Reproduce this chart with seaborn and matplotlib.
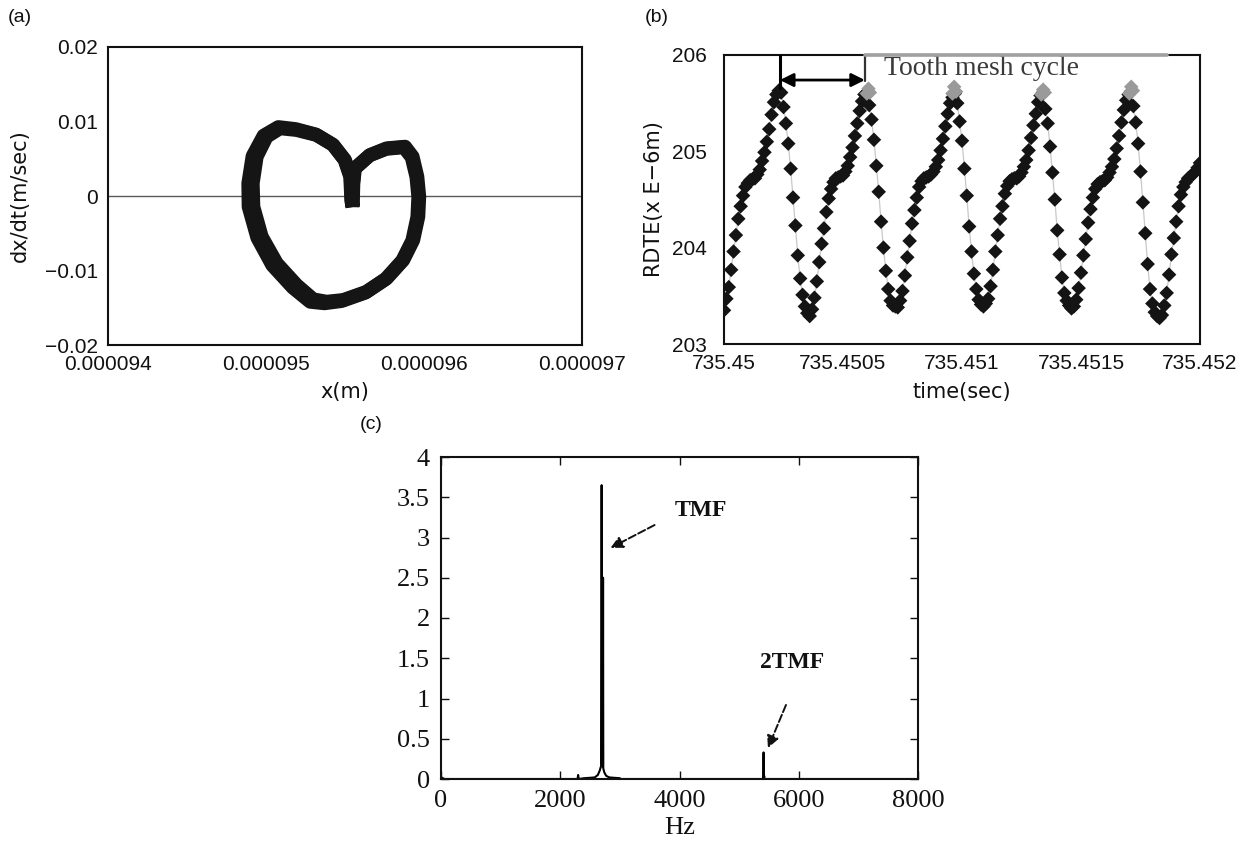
import numpy as np
import matplotlib
matplotlib.use("Agg")
import matplotlib.pyplot as plt
import seaborn as sns

# ---------------- (a) phase portrait: x (micrometres) vs dx/dt (m/s) ----------------
orbit1_x_um = [95.549, 95.553, 95.563, 95.658, 95.764, 95.880, 95.928, 95.958, 95.970, 95.964,
               95.932, 95.869, 95.764, 95.637, 95.489, 95.384, 95.299, 95.194, 95.068, 94.973,
               94.920, 94.916, 94.941, 95.004, 95.089, 95.194, 95.320, 95.426, 95.500, 95.536,
               95.542, 95.549]
orbit1_v = [-0.00144, 0.00170, 0.00372, 0.00550, 0.00640, 0.00662, 0.00528, 0.00259, -0.00009, -0.00278,
            -0.00591, -0.00859, -0.01105, -0.01285, -0.01396, -0.01419, -0.01387, -0.01195, -0.00903, -0.00546,
            -0.00144, 0.00170, 0.00528, 0.00796, 0.00909, 0.00886, 0.00819, 0.00685, 0.00483, 0.00259,
            -0.00054, -0.00144]
orbit2_x_um = [95.547, 95.551, 95.560, 95.655, 95.760, 95.872, 95.922, 95.952, 95.964, 95.958,
               95.926, 95.862, 95.757, 95.628, 95.478, 95.370, 95.280, 95.170, 95.040, 94.945,
               94.890, 94.888, 94.915, 94.985, 95.078, 95.188, 95.315, 95.422, 95.497, 95.533,
               95.540, 95.547]
orbit2_v = [-0.00150, 0.00165, 0.00365, 0.00545, 0.00632, 0.00655, 0.00520, 0.00255, -0.00012, -0.00282,
            -0.00598, -0.00868, -0.01115, -0.01298, -0.01410, -0.01440, -0.01420, -0.01230, -0.00930, -0.00560,
            -0.00144, 0.00170, 0.00535, 0.00810, 0.00925, 0.00898, 0.00826, 0.00690, 0.00486, 0.00260,
            -0.00060, -0.00150]
a_xticks = [0.000094, 0.000095, 0.000096, 0.000097]
a_xticklabels = ["0.000094", "0.000095", "0.000096", "0.000097"]
a_yticks = [-0.02, -0.01, 0.0, 0.01, 0.02]
a_yticklabels = ["\u22120.02", "\u22120.01", "0", "0.01", "0.02"]

# ---------------- (b) RDTE time series ----------------
t_start = 735.45
time_us = [
    0, 10, 20, 30, 40, 50, 60, 70, 80, 90,
    100, 110, 120, 130, 140, 150, 160, 170, 180, 190,
    200, 210, 220, 230, 240, 250, 260, 270, 280, 290,
    300, 310, 320, 330, 340, 350, 360, 370, 380, 390,
    400, 410, 420, 430, 440, 450, 460, 470, 480, 490,
    500, 510, 520, 530, 540, 550, 560, 570, 580, 590,
    600, 610, 620, 630, 640, 650, 660, 670, 680, 690,
    700, 710, 720, 730, 740, 750, 760, 770, 780, 790,
    800, 810, 820, 830, 840, 850, 860, 870, 880, 890,
    900, 910, 920, 930, 940, 950, 960, 970, 980, 990,
    1000, 1010, 1020, 1030, 1040, 1050, 1060, 1070, 1080, 1090,
    1100, 1110, 1120, 1130, 1140, 1150, 1160, 1170, 1180, 1190,
    1200, 1210, 1220, 1230, 1240, 1250, 1260, 1270, 1280, 1290,
    1300, 1310, 1320, 1330, 1340, 1350, 1360, 1370, 1380, 1390,
    1400, 1410, 1420, 1430, 1440, 1450, 1460, 1470, 1480, 1490,
    1500, 1510, 1520, 1530, 1540, 1550, 1560, 1570, 1580, 1590,
    1600, 1610, 1620, 1630, 1640, 1650, 1660, 1670, 1680, 1690,
    1700, 1710, 1720, 1730, 1740, 1750, 1760, 1770, 1780, 1790,
    1800, 1810, 1820, 1830, 1840, 1850, 1860, 1870, 1880, 1890,
    1900, 1910, 1920, 1930, 1940, 1950, 1960, 1970, 1980, 1990,
    2000]
rdte = (
    [203.35, 203.47, 203.59, 203.77, 203.96, 204.13, 204.30, 204.43, 204.54, 204.63,
     204.67, 204.70, 204.71, 204.72, 204.76, 204.81, 204.90, 204.99, 205.10, 205.23,
     205.38, 205.51, 205.59, 205.63,
     205.61, 205.46, 205.29, 205.08, 204.82, 204.52, 204.23, 203.92, 203.68, 203.51,
     203.39, 203.32, 203.29]
    + [203.36, 203.48, 203.65, 203.85, 204.04, 204.20, 204.37, 204.51, 204.61, 204.68,
       204.72, 204.73, 204.74, 204.75, 204.79, 204.85, 204.94, 205.04, 205.16, 205.29,
       205.42, 205.52, 205.59, 205.61]
    + [205.48, 205.33, 205.12, 204.85, 204.58, 204.27, 204.00, 203.76, 203.57, 203.45,
       203.40, 203.39, 203.38]
    + [203.45, 203.55, 203.71, 203.90, 204.07, 204.25, 204.39, 204.52, 204.63, 204.69,
       204.72, 204.73, 204.74, 204.76, 204.79, 204.84, 204.91, 205.01, 205.13, 205.26,
       205.39, 205.50, 205.56, 205.60]
    + [205.50, 205.31, 205.11, 204.82, 204.54, 204.22, 203.96, 203.73, 203.57, 203.46,
       203.41, 203.39, 203.42]
    + [203.47, 203.60, 203.77, 203.96, 204.13, 204.30, 204.43, 204.56, 204.64, 204.69,
       204.71, 204.72, 204.72, 204.74, 204.78, 204.84, 204.91, 205.01, 205.14, 205.27,
       205.39, 205.51, 205.58, 205.61]
    + [205.44, 205.29, 205.05, 204.78, 204.50, 204.18, 203.93, 203.69, 203.53, 203.45,
       203.40, 203.37, 203.39]
    + [203.46, 203.58, 203.74, 203.92, 204.09, 204.26, 204.40, 204.52, 204.61, 204.66,
       204.68, 204.69, 204.70, 204.73, 204.78, 204.84, 204.92, 205.03, 205.16, 205.30,
       205.43, 205.53, 205.59, 205.62]
    + [205.47, 205.30, 205.08, 204.79, 204.47, 204.15, 203.83, 203.57, 203.42, 203.33,
       203.29, 203.27, 203.30]
    + [203.40, 203.53, 203.72, 203.93, 204.10, 204.27, 204.43, 204.55, 204.63, 204.68,
       204.72, 204.74, 204.76, 204.79, 204.83, 204.88]
)
peak_time_us = [600, 607, 613, 960, 967, 975, 1333, 1341, 1348, 1703, 1711, 1718]
peak_rdte = [205.60, 205.65, 205.61, 205.60, 205.67, 205.62, 205.59, 205.64, 205.61, 205.60, 205.67, 205.63]
cycle_from_us, cycle_to_us = 235, 592
b_xticks_us = [0, 500, 1000, 1500, 2000]
b_xticklabels = ["735.45", "735.4505", "735.451", "735.4515", "735.452"]
b_yticks = [203, 204, 205, 206]

# ---------------- (c) spectrum ----------------
freq_hz = [0, 30, 60, 2290, 2300, 2310, 2400, 2500, 2580, 2630,
           2660, 2680, 2690, 2694, 2698, 2702, 2706, 2710, 2714, 2718,
           2722, 2740, 2770, 2820, 2900, 3000, 3010, 5405, 5410, 5415,
           5420, 5425, 8000]
amplitude = [0.02, 0.01, 0.0, 0.0, 0.05, 0.0, 0.01, 0.015, 0.02, 0.05,
             0.10, 0.15, 0.17, 3.65, 0.17, 2.5, 0.16, 2.5, 0.15, 2.5,
             0.13, 0.08, 0.04, 0.02, 0.015, 0.01, 0.0, 0.0, 0.33, 0.0,
             0.04, 0.0, 0.0]
c_xticks = [0, 2000, 4000, 6000, 8000]
c_yticks = [0, 0.5, 1, 1.5, 2, 2.5, 3, 3.5, 4]
c_yticklabels = ["0", "0.5", "1", "1.5", "2", "2.5", "3", "3.5", "4"]

# ---------------- figure ----------------
sns.set_style("white")
plt.rcParams["font.family"] = ["Liberation Sans", "DejaVu Sans"]
plt.rcParams["axes.unicode_minus"] = True

W, H = 1257, 843
fig = plt.figure(figsize=(W / 100, H / 100), dpi=100)


def add_axes_px(l, t, r, b):
    return fig.add_axes([l / W, 1 - b / H, (r - l) / W, (b - t) / H])


axA = add_axes_px(108, 47, 582, 345)
axB = add_axes_px(724, 55, 1200, 344)
axC = add_axes_px(441, 457, 918, 779)

# (a)
axA.axhline(0, color="#5a5a5a", lw=1.0, zorder=0)
for ox, ov in ((orbit2_x_um, orbit2_v), (orbit1_x_um, orbit1_v)):
    sns.lineplot(x=np.array(ox) * 1e-6, y=ov, sort=False, estimator=None, ax=axA,
                 color="#151515", lw=10, solid_joinstyle="round", solid_capstyle="butt")
axA.set_xlim(0.000094, 0.000097)
axA.set_ylim(-0.02, 0.02)
axA.set_xticks(a_xticks, labels=a_xticklabels)
axA.set_yticks(a_yticks, labels=a_yticklabels)
axA.tick_params(length=0, labelsize=15, pad=7, colors="#111111")
axA.set_xlabel("x(m)", fontsize=15, family="DejaVu Sans", color="#111111")
axA.set_ylabel("dx/dt(m/sec)", fontsize=15, family="DejaVu Sans", color="#111111")
axA.xaxis.set_label_coords(0.5, -0.125)
axA.yaxis.set_label_coords(-0.165, 0.5)

# (b)
t_sec = t_start + np.array(time_us) * 1e-6
sns.lineplot(x=t_sec, y=rdte, sort=False, estimator=None, ax=axB, color="#c8c8c8", lw=0.9, zorder=2)
sns.scatterplot(x=t_sec, y=rdte, ax=axB, marker="D", s=55, color="#141414", edgecolor="none", zorder=3)
sns.scatterplot(x=t_start + np.array(peak_time_us) * 1e-6, y=peak_rdte, ax=axB, marker="D", s=55,
                color="#9a9a9a", edgecolor="none", zorder=4)
axB.set_xlim(t_start, t_start + 2000e-6)
axB.set_ylim(203, 206)
axB.set_xticks([t_start + v * 1e-6 for v in b_xticks_us], labels=b_xticklabels)
axB.set_yticks(b_yticks, labels=[str(v) for v in b_yticks])
axB.tick_params(direction="in", length=4, width=1, labelsize=15, colors="#111111")
axB.tick_params(axis="y", pad=12)
axB.tick_params(axis="x", pad=7)
axB.set_xlabel("time(sec)", fontsize=15, family="DejaVu Sans", color="#111111")
axB.set_ylabel("RDTE(x E\u22126m)", fontsize=15, family="DejaVu Sans", color="#111111")
axB.xaxis.set_label_coords(0.5, -0.13)
axB.yaxis.set_label_coords(-0.126, 0.5)

t1 = t_start + cycle_from_us * 1e-6
t2 = t_start + cycle_to_us * 1e-6
axB.plot([t1, t1], [206, 205.66], color="black", lw=2.2, zorder=6)
axB.plot([t2, t2], [206, 205.73], color="#333333", lw=1.6, zorder=6)
axB.annotate("", xy=(t1, 205.74), xytext=(t2, 205.74),
             arrowprops=dict(arrowstyle="<|-|>", color="black", lw=2, mutation_scale=20,
                             shrinkA=0, shrinkB=0), zorder=6)
axB.plot([t2, t_start + 1861e-6], [206, 206], color="#a0a0a0", lw=2.6, clip_on=False, zorder=7)
axB.text(t_start + 672e-6, 205.865, "Tooth mesh cycle", family="Liberation Serif", fontsize=20,
         color="#3a3a3a", va="center", ha="left")

# (c)
sns.lineplot(x=freq_hz, y=amplitude, sort=False, estimator=None, ax=axC, color="black", lw=1.5)
axC.set_xlim(0, 8000)
axC.set_ylim(0, 4)
axC.set_xticks(c_xticks, labels=[str(v) for v in c_xticks])
axC.set_yticks(c_yticks, labels=c_yticklabels)
axC.tick_params(direction="in", length=6, width=1, labelsize=19, pad=8,
                top=True, right=True, bottom=True, left=True, colors="#111111")
for lab in axC.get_xticklabels() + axC.get_yticklabels():
    lab.set_family("Liberation Serif")
axC.set_xlabel("Hz", fontsize=19, family="Liberation Serif", color="#111111")
axC.xaxis.set_label_coords(0.5, -0.118)
axC.text(4361, 3.34, "TMF", family="Liberation Serif", fontsize=17, fontweight="bold",
         ha="center", va="center", color="#111111")
axC.text(5887, 1.45, "2TMF", family="Liberation Serif", fontsize=17, fontweight="bold",
         ha="center", va="center", color="#111111")
axC.annotate("", xy=(2843, 2.87), xytext=(3582, 3.155),
             arrowprops=dict(arrowstyle="-|>", color="#111111", lw=1.4, ls=(0, (4, 1.5)),
                             mutation_scale=18, shrinkA=0, shrinkB=0))
axC.annotate("", xy=(5484, 0.385), xytext=(5786, 0.92),
             arrowprops=dict(arrowstyle="-|>", color="#111111", lw=1.4, ls=(0, (4, 1.5)),
                             mutation_scale=18, shrinkA=0, shrinkB=0))

for ax in (axA, axB, axC):
    for sp in ax.spines.values():
        sp.set_visible(True)
        sp.set_color("#111111")
        sp.set_linewidth(1.5)

fig.text(8 / W, 1 - 18 / H, "(a)", fontsize=14, ha="left", va="center", color="#111111")
fig.text(645 / W, 1 - 18 / H, "(b)", fontsize=14, ha="left", va="center", color="#111111")
fig.text(360 / W, 1 - 424 / H, "(c)", fontsize=14, ha="left", va="center", color="#111111")

fig.savefig("out.png", dpi=100, facecolor="white")
